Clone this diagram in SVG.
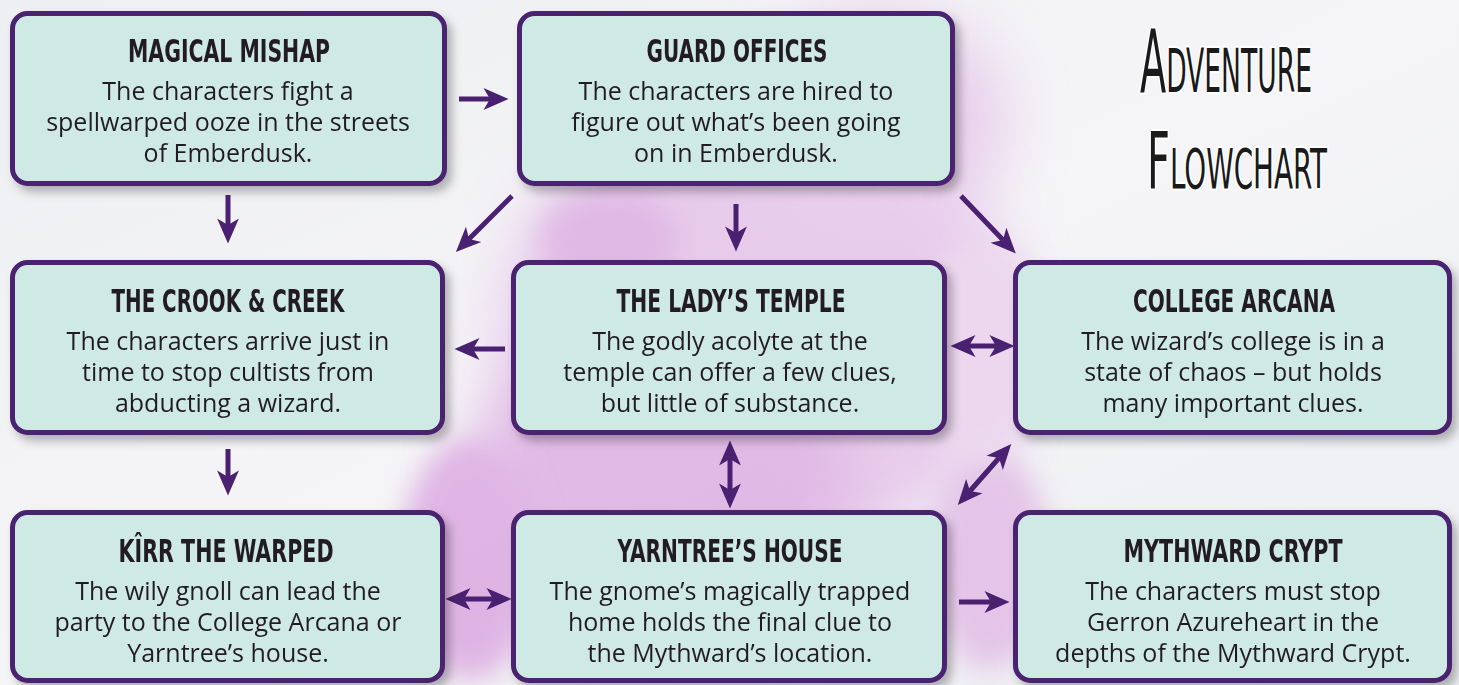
<svg xmlns="http://www.w3.org/2000/svg" width="1459" height="685" viewBox="0 0 1459 685">
<defs>
<linearGradient id="bg" x1="0" y1="0" x2="1" y2="1">
<stop offset="0" stop-color="#eeeff2"/>
<stop offset="0.5" stop-color="#f5f5f7"/>
<stop offset="1" stop-color="#eceef1"/>
</linearGradient>
<filter id="blur" x="-50%" y="-50%" width="200%" height="200%"><feGaussianBlur stdDeviation="30"/></filter>
<filter id="blur2" x="-50%" y="-50%" width="200%" height="200%"><feGaussianBlur stdDeviation="14"/></filter>
<filter id="shadow" x="-10%" y="-10%" width="130%" height="140%"><feDropShadow dx="5" dy="6" stdDeviation="5" flood-color="#000" flood-opacity="0.28"/></filter>
<marker id="head" markerUnits="userSpaceOnUse" markerWidth="30" markerHeight="24" refX="0" refY="0" viewBox="-7 -11 26 22" orient="auto-start-reverse">
<path d="M-6,-10 L17,0 L-6,10 L0,0 Z" fill="#4a2170"/>
</marker>
</defs>
<style>
.box{fill:#cfe9e5;stroke:#4a2170;stroke-width:5;}
.title{font-family:"DejaVu Sans Condensed","DejaVu Sans","Liberation Sans",sans-serif;font-weight:bold;font-size:32px;fill:#231f20;text-anchor:middle;}
.body{font-family:"Open Sans","Noto Sans",sans-serif;font-size:25px;fill:#231f20;text-anchor:middle;}
.arr{stroke:#4a2170;stroke-width:5;fill:none;marker-end:url(#head);}
.dbl{marker-start:url(#head);}
.hand{font-family:"DejaVu Sans Condensed","DejaVu Sans",sans-serif;font-weight:normal;font-variant:small-caps;fill:#1a1a1a;stroke:#ffffff;stroke-width:3;paint-order:stroke;stroke-linejoin:round;}
</style>
<rect x="0" y="0" width="1459" height="685" fill="url(#bg)"/>
<g id="watercolor" opacity="0.85">
<ellipse cx="760" cy="330" rx="260" ry="230" fill="#e6c5ea" filter="url(#blur)"/>
<ellipse cx="660" cy="480" rx="190" ry="160" fill="#deb0e3" filter="url(#blur)"/>
<ellipse cx="880" cy="120" rx="130" ry="110" fill="#e7c9eb" filter="url(#blur)"/>
<ellipse cx="470" cy="560" rx="70" ry="120" fill="#dcaae1" filter="url(#blur2)"/>
<ellipse cx="990" cy="560" rx="60" ry="110" fill="#e2bde6" filter="url(#blur2)"/>
<ellipse cx="980" cy="350" rx="70" ry="110" fill="#ebd3ed" filter="url(#blur2)"/>
<ellipse cx="610" cy="240" rx="70" ry="50" fill="#ddb0e2" filter="url(#blur2)"/>
</g>
<g id="title" class="hand">
<text transform="translate(1140 92) scale(1 1.45)" x="0" y="0" font-size="60" textLength="172" lengthAdjust="spacingAndGlyphs">Adventure</text>
<text transform="translate(1147 188) scale(1 1.35)" x="0" y="0" font-size="58" textLength="180" lengthAdjust="spacingAndGlyphs">Flowchart</text>
</g>
<g id="connectors">
<line class="arr" x1="459" y1="99" x2="490" y2="99"/>
<line class="arr" x1="228" y1="195" x2="228" y2="225"/>
<line class="arr" x1="512" y1="196" x2="469" y2="239"/>
<line class="arr" x1="736" y1="204" x2="736" y2="233"/>
<line class="arr" x1="961" y1="196" x2="1003" y2="240"/>
<line class="arr" x1="505" y1="349" x2="473" y2="349"/>
<line class="arr dbl" x1="969" y1="346" x2="996" y2="346"/>
<line class="arr dbl" x1="730" y1="459" x2="730" y2="490"/>
<line class="arr" x1="228" y1="449" x2="228" y2="477"/>
<line class="arr dbl" x1="970" y1="491" x2="999" y2="458"/>
<line class="arr dbl" x1="464" y1="599" x2="493" y2="599"/>
<line class="arr" x1="959" y1="602" x2="991" y2="602"/>
</g>
<g id="node-magical-mishap" filter="url(#shadow)">
<rect class="box" x="12.5" y="13.5" width="432" height="170" rx="15"/>
<text class="title" x="229" y="62" textLength="202" lengthAdjust="spacingAndGlyphs">MAGICAL MISHAP</text>
<text class="body" x="228" y="100">The characters fight a</text>
<text class="body" x="228" y="131">spellwarped ooze in the streets</text>
<text class="body" x="228" y="162">of Emberdusk.</text>
</g>
<g id="node-guard-offices" filter="url(#shadow)">
<rect class="box" x="519.5" y="13.5" width="433" height="170" rx="15"/>
<text class="title" x="737" y="62" textLength="181" lengthAdjust="spacingAndGlyphs">GUARD OFFICES</text>
<text class="body" x="736" y="100">The characters are hired to</text>
<text class="body" x="736" y="131">figure out what’s been going</text>
<text class="body" x="736" y="162">on in Emberdusk.</text>
</g>
<g id="node-crook-creek" filter="url(#shadow)">
<rect class="box" x="12.5" y="262.5" width="430" height="170" rx="15"/>
<text class="title" x="228" y="312" textLength="233" lengthAdjust="spacingAndGlyphs">THE CROOK &amp; CREEK</text>
<text class="body" x="228" y="350">The characters arrive just in</text>
<text class="body" x="228" y="381">time to stop cultists from</text>
<text class="body" x="228" y="412">abducting a wizard.</text>
</g>
<g id="node-ladys-temple" filter="url(#shadow)">
<rect class="box" x="513.5" y="262.5" width="431" height="170" rx="15"/>
<text class="title" x="731" y="312" textLength="229" lengthAdjust="spacingAndGlyphs">THE LADY’S TEMPLE</text>
<text class="body" x="730" y="350">The godly acolyte at the</text>
<text class="body" x="730" y="381">temple can offer a few clues,</text>
<text class="body" x="730" y="412">but little of substance.</text>
</g>
<g id="node-college-arcana" filter="url(#shadow)">
<rect class="box" x="1015.5" y="262.5" width="434" height="170" rx="15"/>
<text class="title" x="1234" y="312" textLength="202" lengthAdjust="spacingAndGlyphs">COLLEGE ARCANA</text>
<text class="body" x="1233" y="350">The wizard’s college is in a</text>
<text class="body" x="1233" y="381">state of chaos – but holds</text>
<text class="body" x="1233" y="412">many important clues.</text>
</g>
<g id="node-kirr" filter="url(#shadow)">
<rect class="box" x="12.5" y="512.5" width="430" height="168" rx="15"/>
<text class="title" x="226" y="562" textLength="215" lengthAdjust="spacingAndGlyphs">KÎRR THE WARPED</text>
<text class="body" x="228" y="600">The wily gnoll can lead the</text>
<text class="body" x="228" y="631">party to the College Arcana or</text>
<text class="body" x="228" y="662">Yarntree’s house.</text>
</g>
<g id="node-yarntree" filter="url(#shadow)">
<rect class="box" x="513.5" y="512.5" width="431" height="168" rx="15"/>
<text class="title" x="730" y="562" textLength="225" lengthAdjust="spacingAndGlyphs">YARNTREE’S HOUSE</text>
<text class="body" x="730" y="600">The gnome’s magically trapped</text>
<text class="body" x="730" y="631">home holds the final clue to</text>
<text class="body" x="730" y="662">the Mythward’s location.</text>
</g>
<g id="node-mythward-crypt" filter="url(#shadow)">
<rect class="box" x="1015.5" y="512.5" width="434" height="168" rx="15"/>
<text class="title" x="1233" y="562" textLength="219" lengthAdjust="spacingAndGlyphs">MYTHWARD CRYPT</text>
<text class="body" x="1233" y="600">The characters must stop</text>
<text class="body" x="1233" y="631">Gerron Azureheart in the</text>
<text class="body" x="1233" y="662">depths of the Mythward Crypt.</text>
</g>
</svg>
